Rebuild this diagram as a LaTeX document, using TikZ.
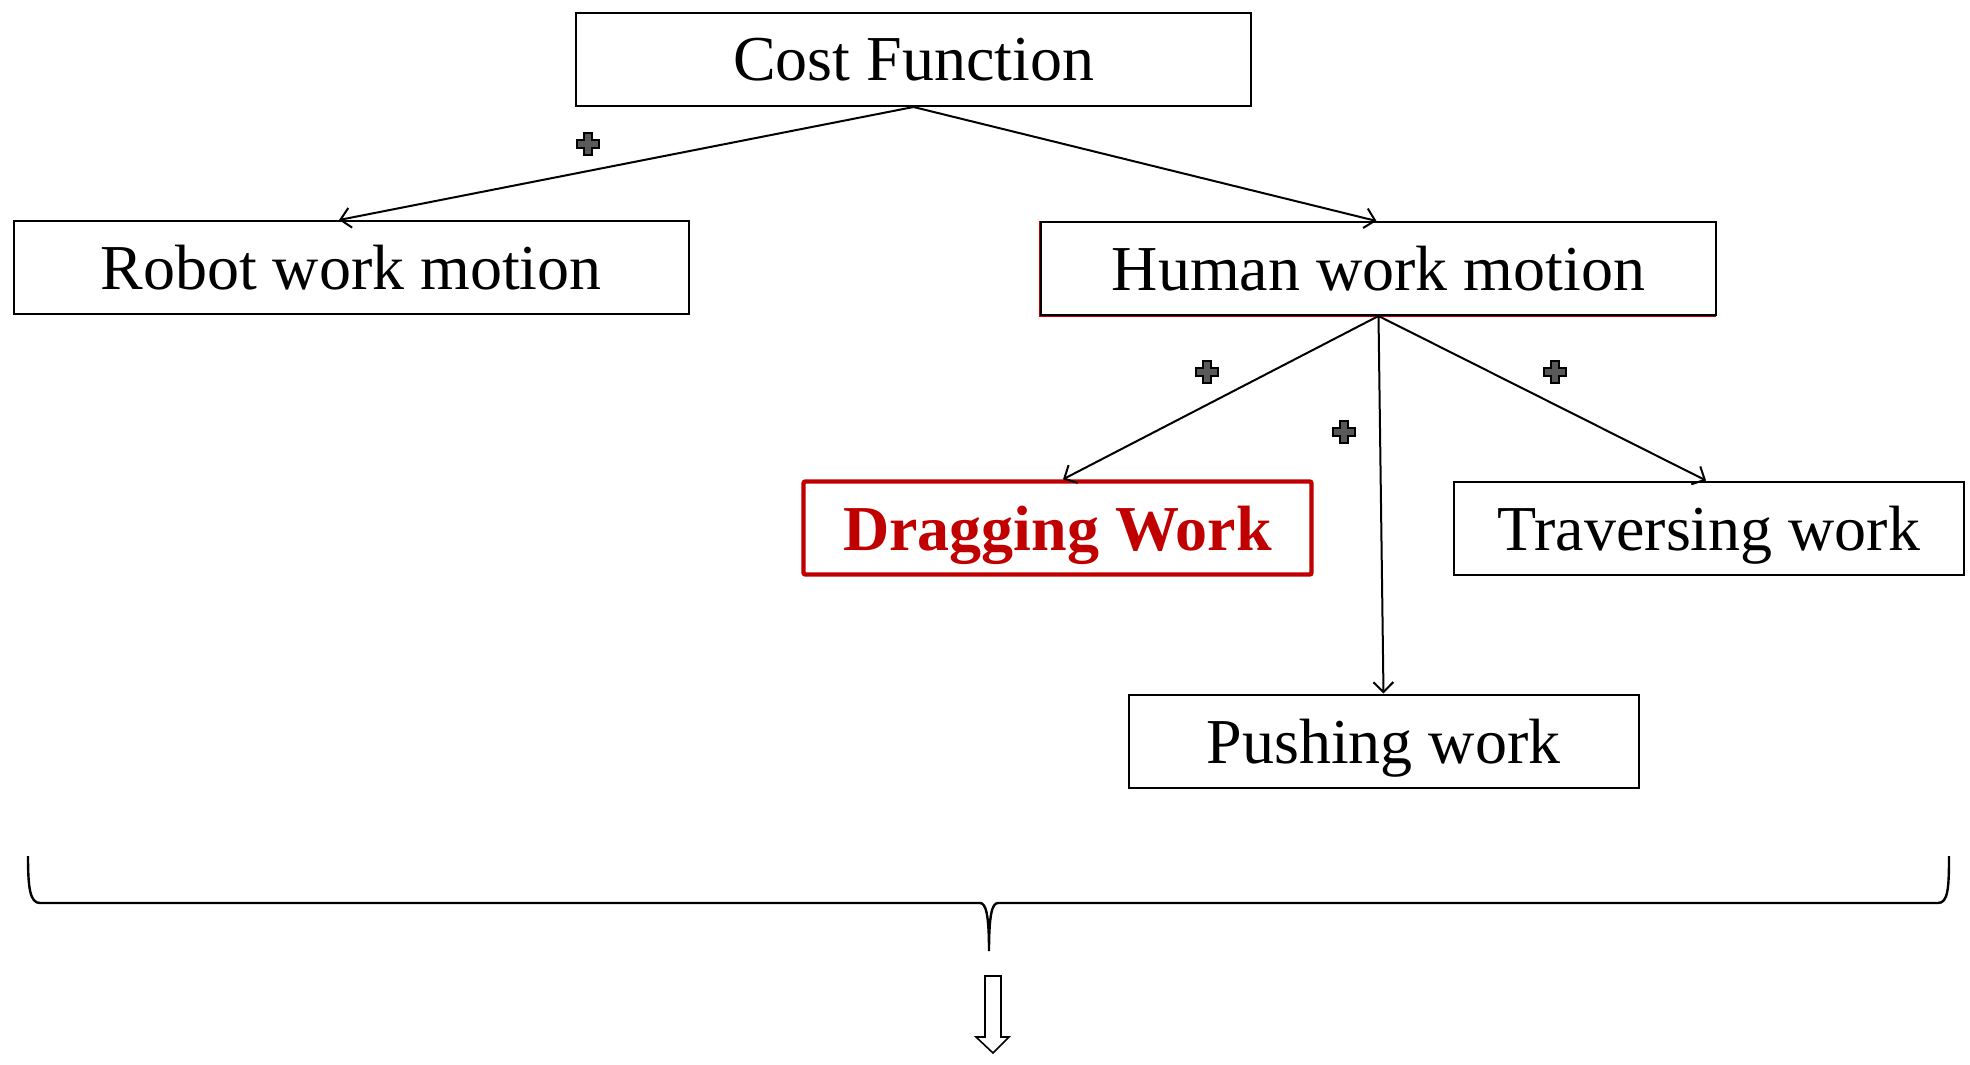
\documentclass[tikz,border=0pt]{standalone}
\usepackage{fontspec}
\setmainfont{Liberation Serif}
\usetikzlibrary{arrows.meta,calc}
\definecolor{accentred}{RGB}{192,0,0}
\definecolor{plusgray}{RGB}{89,89,89}
\begin{document}
\begin{tikzpicture}[x=0.5pt,y=-0.5pt,
  box/.style={draw, line width=1pt, inner sep=0pt, text depth=0pt,
    minimum height=46.5pt, font=\fontsize{32}{38}\selectfont},
  widebox/.style={box, minimum width=337.5pt},
  narrowbox/.style={box, minimum width=255pt},
  focusbox/.style={narrowbox, draw=accentred, text=accentred,
    line width=2.2pt, rounded corners=1pt, minimum width=254pt,
    font=\fontsize{32}{38}\selectfont\bfseries},
  conn/.style={line width=1pt, -{Straight Barb[length=5pt,width=10pt]}},
  plusmark/.pic={
    \draw[fill=plusgray, draw=black, line width=0.8pt]
      (-3.8,-11) -- (3.8,-11) -- (3.8,-3.8) -- (11,-3.8) -- (11,3.8)
      -- (3.8,3.8) -- (3.8,11) -- (-3.8,11) -- (-3.8,3.8) -- (-11,3.8)
      -- (-11,-3.8) -- (-3.8,-3.8) -- cycle;
  }]
\useasboundingbox (0,0) rectangle (1970,1065);

% tree of cost terms
\node[widebox] (cost) at (913.5,59.5) {Cost Function};
\node[widebox] (robot) at (351,267.5) {Robot work motion};
\draw[accentred, line width=0.6pt] (1040,222) rectangle (1715,316.5);
\node[widebox, fill=white] (human) at (1378.5,268.5) {Human work motion};
\node[focusbox] (drag) at (1057.5,528) {Dragging Work};
\node[narrowbox] (trav) at (1709,528) {Traversing work};
\node[narrowbox] (push) at (1383.5,741) {Pushing work};

\draw[conn] (cost.south) -- ([xshift=-6pt]robot.north);
\draw[conn] (cost.south) -- ([xshift=-1pt]human.north);
\draw[conn] (human.south) -- ([xshift=2.75pt]drag.north);
\draw[conn] (human.south) -- (push.north);
\draw[conn] (human.south) -- ([xshift=-1.5pt]trav.north);

% summation marks
\pic at (588,144) {plusmark};
\pic at (1207,372) {plusmark};
\pic at (1344,432) {plusmark};
\pic at (1555,372) {plusmark};

% collecting brace
\draw[line width=1.2pt]
  (28,856) .. controls (28,888) and (30,903) .. (40,903)
  -- (980,903) .. controls (986,903) and (989,915) .. (989,951)
  .. controls (989,915) and (992,903) .. (998,903)
  -- (1938,903) .. controls (1948,903) and (1949,888) .. (1949,856);

% hollow result arrow
\draw[line width=0.8pt, fill=white]
  (985,976) -- (1001,976) -- (1001,1037) -- (1009,1037) -- (993,1053)
  -- (976,1037) -- (985,1037) -- cycle;
\end{tikzpicture}
\end{document}
